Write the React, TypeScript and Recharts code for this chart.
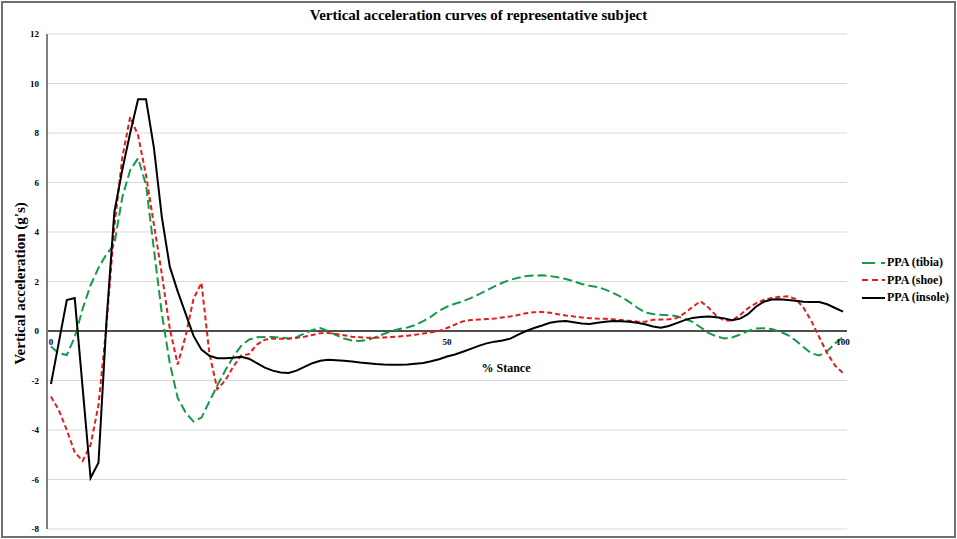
import React from 'react';
import { LineChart, Line, XAxis, YAxis, CartesianGrid, ReferenceLine, ReferenceDot, Legend } from 'recharts';

// % stance 0..100 (one point per percent)
const tibia = [
  -0.63, -0.9, -0.97, -0.25, 0.9, 1.85, 2.55, 3.1, 3.5, 5.4,
  6.5, 6.98, 5.9, 3.3, 0.7, -1.3, -2.7, -3.3, -3.66, -3.5,
  -2.85, -2.2, -1.6, -1.05, -0.6, -0.35, -0.25, -0.24, -0.24, -0.27,
  -0.3, -0.25, -0.1, 0.04, 0.12, 0.0, -0.17, -0.3, -0.38, -0.4,
  -0.36, -0.25, -0.12, 0.0, 0.08, 0.14, 0.24, 0.4, 0.58, 0.82,
  0.98, 1.1, 1.2, 1.33, 1.48, 1.64, 1.8, 1.95, 2.07, 2.15,
  2.22, 2.24, 2.25, 2.22, 2.17, 2.1, 2.01, 1.9, 1.83, 1.78,
  1.67, 1.53, 1.38, 1.18, 0.95, 0.75, 0.69, 0.66, 0.64, 0.6,
  0.5, 0.37, 0.15, -0.08, -0.22, -0.3, -0.26, -0.14, 0.0, 0.1,
  0.11, 0.08, -0.02, -0.16, -0.38, -0.65, -0.9, -0.99, -0.82, -0.5,
  -0.25,
];

const shoe = [
  -2.65, -3.2, -4.0, -4.9, -5.25, -4.6, -3.0, 0.2, 4.2, 7.0,
  8.65, 7.9, 6.3, 4.3, 2.3, 0.1, -1.35, -0.2, 1.3, 1.95,
  -0.9, -2.35, -2.0, -1.45, -1.0, -0.93, -0.55, -0.35, -0.31, -0.31,
  -0.31, -0.28, -0.23, -0.16, -0.09, -0.08, -0.12, -0.17, -0.23, -0.25,
  -0.27, -0.27, -0.26, -0.24, -0.22, -0.19, -0.15, -0.1, -0.05, 0.0,
  0.12, 0.26, 0.39, 0.44, 0.46, 0.48, 0.5, 0.55, 0.59, 0.65,
  0.72, 0.76, 0.77, 0.74, 0.68, 0.63, 0.59, 0.55, 0.52, 0.5,
  0.49, 0.47, 0.44, 0.41, 0.38, 0.37, 0.45, 0.46, 0.47, 0.52,
  0.72, 0.97, 1.2, 0.95, 0.62, 0.42, 0.42, 0.65, 0.92, 1.12,
  1.26, 1.33, 1.38, 1.4, 1.3, 0.95, 0.4, -0.25, -0.9, -1.4,
  -1.7,
];

const insole = [
  -2.14, -0.45, 1.25, 1.33, -2.3, -5.94, -5.32, 0.35, 4.8, 6.5,
  8.0, 9.36, 9.36, 7.4, 4.6, 2.6, 1.6, 0.7, -0.2, -0.75,
  -1.0, -1.1, -1.1, -1.08, -1.04, -1.12, -1.3, -1.48, -1.6, -1.68,
  -1.7, -1.6, -1.45, -1.3, -1.2, -1.16, -1.18, -1.2, -1.23, -1.27,
  -1.3, -1.33, -1.35, -1.36, -1.36, -1.35, -1.32, -1.29, -1.22, -1.14,
  -1.03, -0.95, -0.84, -0.72, -0.6, -0.5, -0.43, -0.38, -0.31, -0.15,
  0.0, 0.12, 0.22, 0.33, 0.38, 0.4, 0.35, 0.3, 0.28, 0.33,
  0.37, 0.4, 0.39, 0.37, 0.33, 0.27, 0.18, 0.13, 0.2, 0.32,
  0.44, 0.53, 0.57, 0.59, 0.56, 0.51, 0.44, 0.5, 0.68, 0.98,
  1.18, 1.27, 1.28, 1.25, 1.22, 1.18, 1.17, 1.17, 1.08, 0.93,
  0.78,
];

const yTicks = [-8, -6, -4, -2, 0, 2, 4, 6, 8, 10, 12];
const xTickLabels = [0, 50, 100];

const seriesInfo = [
  { key: 'tibia', name: 'PPA (tibia)', color: '#159a4a', dash: '9 4', legendDash: '13 6' },
  { key: 'shoe', name: 'PPA (shoe)', color: '#e31d1d', dash: '5 3', legendDash: '6 4' },
  { key: 'insole', name: 'PPA (insole)', color: '#000000', dash: undefined, legendDash: undefined },
];

const rows = tibia.map((v, i) => ({ stance: i, tibia: v, shoe: shoe[i], insole: insole[i] }));

const FONT = '"Liberation Serif", "Times New Roman", serif';

const LegendContent = () => (
  <div style={{ fontFamily: FONT, fontWeight: 700, fontSize: 12, color: '#000' }}>
    {seriesInfo.map((s) => (
      <div key={s.key} style={{ display: 'flex', alignItems: 'center', height: 17.5 }}>
        <svg width={23} height={6} style={{ marginRight: 2 }}>
          <line x1={0} y1={3} x2={23} y2={3} stroke={s.color} strokeWidth={2} strokeDasharray={s.legendDash} />
        </svg>
        <span style={{ whiteSpace: 'nowrap' }}>{s.name}</span>
      </div>
    ))}
  </div>
);

const YLabel = (props: any) => {
  const vb = props.viewBox || { x: 0, y: 0, width: 0, height: 0 };
  const cx = 20;
  const cy = vb.y + vb.height / 2 + 2;
  return (
    <text
      x={cx}
      y={cy}
      transform={`rotate(-90 ${cx} ${cy})`}
      textAnchor="middle"
      dominantBaseline="central"
      style={{ fontFamily: FONT, fontWeight: 700, fontSize: 15, fill: '#000' }}
    >
      Vertical acceleration (g's)
    </text>
  );
};

export default function App() {
  return (
    <div style={{ position: 'absolute', left: 0, top: 0, width: 957, height: 539, background: '#fff', fontFamily: FONT }}>
      <LineChart width={957} height={539} data={rows} margin={{ top: 34, right: 110, bottom: 10, left: 0 }}>
        <CartesianGrid horizontal vertical={false} stroke="#d9d9d9" strokeWidth={1.2} />
        <XAxis dataKey="stance" type="number" domain={[-0.5, 100.5]} hide />
        <YAxis
          type="number"
          domain={[-8, 12]}
          ticks={yTicks}
          width={47}
          interval={0}
          axisLine={{ stroke: '#7f7f7f', strokeWidth: 2 }}
          tickLine={false}
          tick={{ fontFamily: FONT, fontWeight: 700, fontSize: 9, fill: '#000' }}
          label={<YLabel />}
        />
        <ReferenceLine y={0} stroke="#1a1a1a" strokeWidth={1.5} />
        {xTickLabels.map((t) => (
          <ReferenceDot
            key={t}
            x={t}
            y={0}
            r={0}
            fill="none"
            stroke="none"
            label={{ value: String(t), position: 'bottom', offset: 8, style: { fontFamily: FONT, fontWeight: 700, fontSize: 9, fill: '#000' } }}
          />
        ))}
        {seriesInfo.map((s) => (
          <Line
            key={s.key}
            type="linear"
            dataKey={s.key}
            name={s.name}
            stroke={s.color}
            strokeWidth={2}
            strokeDasharray={s.dash}
            dot={false}
            activeDot={false}
            isAnimationActive={false}
          />
        ))}
        <Legend
          layout="horizontal"
          verticalAlign="middle"
          align="center"
          content={<LegendContent />}
          wrapperStyle={{ left: 862, top: 254, width: 95 }}
        />
      </LineChart>
      <div
        style={{
          position: 'absolute', left: 0, top: 6, width: 957, textAlign: 'center',
          fontFamily: FONT, fontWeight: 700, fontSize: 15, color: '#000', lineHeight: '18px',
        }}
      >
        Vertical acceleration curves of representative subject
      </div>
      <div
        style={{
          position: 'absolute', left: 456, top: 360, width: 100, textAlign: 'center',
          fontFamily: FONT, fontWeight: 700, fontSize: 12, color: '#000', lineHeight: '16px',
        }}
      >
        % Stance
      </div>
      <div
        style={{
          position: 'absolute', left: 1, top: 1, width: 955, height: 537,
          border: '2px solid #707070', boxSizing: 'border-box', pointerEvents: 'none',
        }}
      />
    </div>
  );
}
